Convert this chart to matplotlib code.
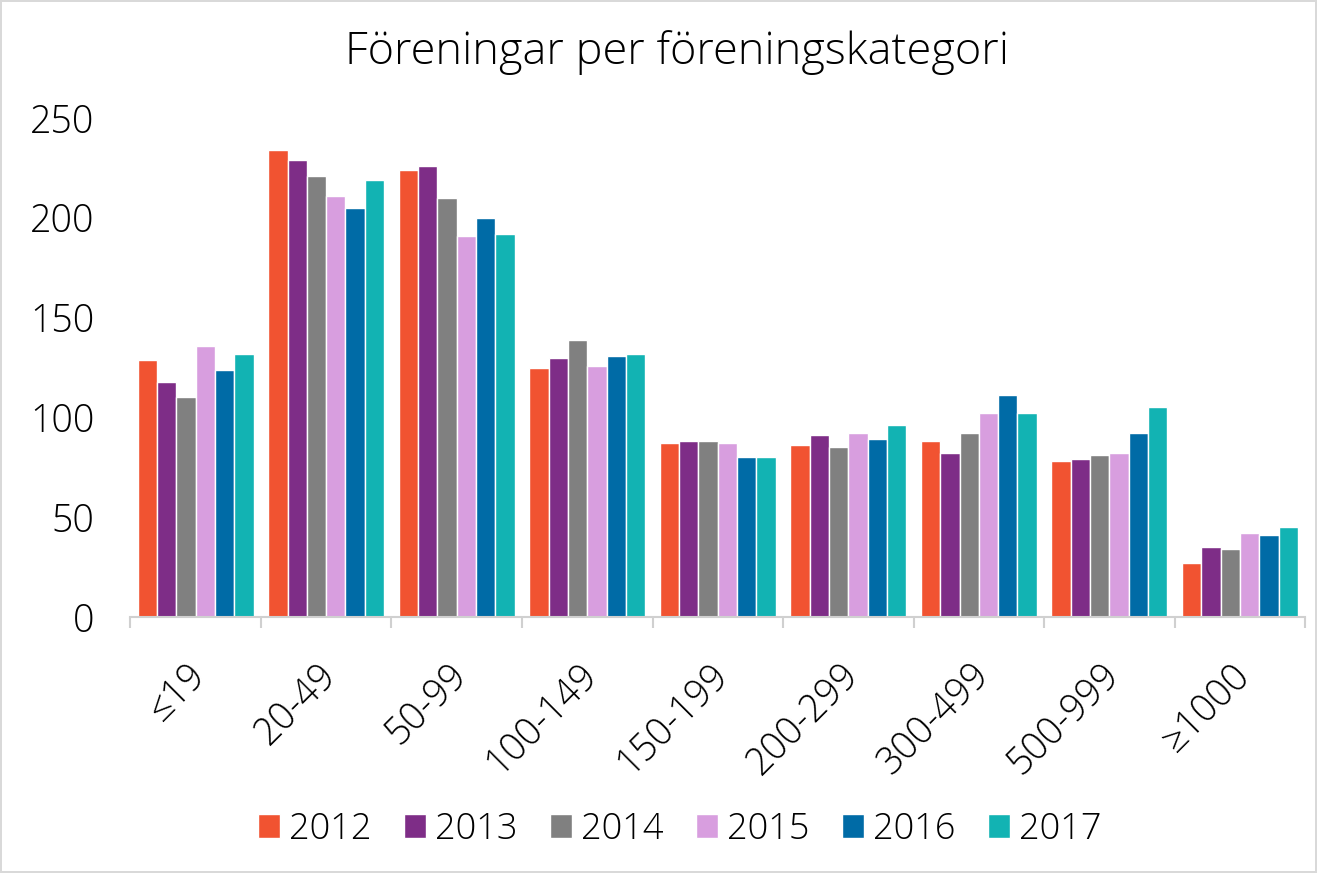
import numpy as np
import matplotlib
matplotlib.use("Agg")
import matplotlib.pyplot as plt
import matplotlib.transforms as mtransforms

plt.rcParams['font.family'] = ['Open Sans', 'DejaVu Sans']
plt.rcParams['font.weight'] = 'light'

categories = ["≤19", "20-49", "50-99", "100-149", "150-199",
              "200-299", "300-499", "500-999", "≥1000"]
years = ["2012", "2013", "2014", "2015", "2016", "2017"]

v2012 = [129, 234, 224, 125, 87, 86, 88, 78, 27]
v2013 = [118, 229, 226, 130, 88, 91, 82, 79, 35]
v2014 = [110, 221, 210, 139, 88, 85, 92, 81, 34]
v2015 = [136, 211, 191, 126, 87, 92, 102, 82, 42]
v2016 = [124, 205, 200, 131, 80, 89, 111, 92, 41]
v2017 = [132, 219, 192, 132, 80, 96, 102, 105, 45]
series = [v2012, v2013, v2014, v2015, v2016, v2017]

colors = ["#F15331", "#7E2D87", "#808080", "#D89EDF", "#006BA6", "#12B3B3"]

fig = plt.figure(figsize=(13.17, 8.73), dpi=100)
fig.patch.set_edgecolor("#D9D9D9")
fig.patch.set_linewidth(1.5)
ax = fig.add_axes([0.099, 0.293, 0.892, 0.572])

x = np.arange(len(categories))
w = 0.148
for i, (vals, c, yr) in enumerate(zip(series, colors, years)):
    ax.bar(x + (i - 2.5) * w, vals, w, color=c, edgecolor="white",
           linewidth=1, label=yr)

ax.set_xlim(-0.5, len(categories) - 0.5)
ax.set_ylim(0, 250)
ax.set_yticks([0, 50, 100, 150, 200, 250])
ax.tick_params(axis="y", length=0, labelsize=27, pad=26)

ax.set_xticks(np.arange(-0.5, len(categories), 1))
ax.set_xticklabels([])
ax.set_xticks(x, minor=True)
ax.set_xticklabels(categories, minor=True, rotation=45, ha="right",
                   rotation_mode="anchor", fontsize=27)
ax.tick_params(axis="x", which="major", length=8, color="#D0D0D0", width=1.5)
ax.tick_params(axis="x", which="minor", length=0, pad=28)
shift = mtransforms.ScaledTranslation(-9 / 100, 0, fig.dpi_scale_trans)
for lbl in ax.get_xticklabels(minor=True):
    lbl.set_transform(lbl.get_transform() + shift)

for s in ["top", "right", "left"]:
    ax.spines[s].set_visible(False)
ax.spines["bottom"].set_color("#D0D0D0")
ax.spines["bottom"].set_linewidth(1.5)

fig.text(0.514, 0.94, "Föreningar per föreningskategori", ha="center",
         va="center", fontsize=32.5)

fig.legend(loc="center", bbox_to_anchor=(0.516, 0.05), ncol=6, frameon=False,
           fontsize=26, handlelength=0.62, handleheight=0.62, handletextpad=0.24,
           columnspacing=0.9)

fig.savefig("out.png", dpi=100)
